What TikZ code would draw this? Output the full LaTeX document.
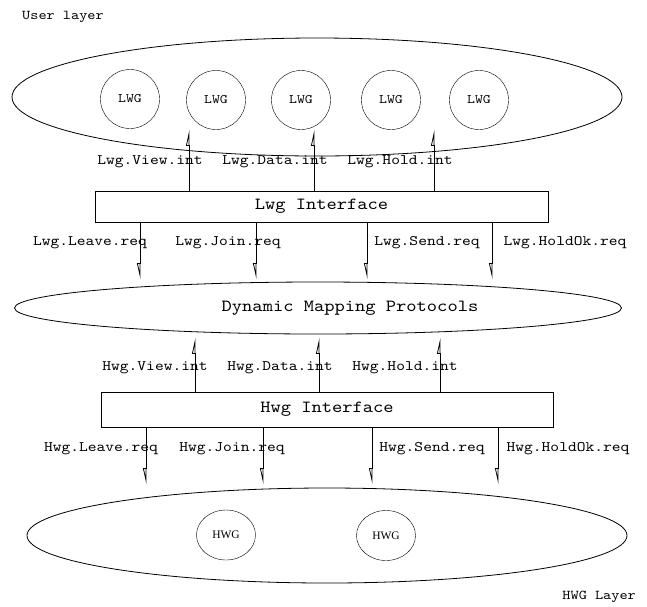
\documentclass[tikz,border=0pt]{standalone}
\usepackage{fontspec}
\setmainfont{Liberation Serif}
\newfontfamily\courfam[FakeStretch=1.15]{lmmono10-regular.otf}
\usetikzlibrary{arrows.meta,shapes.geometric}
\newcommand{\cour}[1]{\fontsize{#1}{#1}\courfam}
\begin{document}
\begin{tikzpicture}[x=1pt,y=-1pt,
  layer/.style={draw,ellipse,line width=0.8pt,inner sep=0pt},
  grp/.style={draw,circle,minimum size=59pt,inner sep=0pt,font=\cour{13}},
  hgrp/.style={draw,ellipse,minimum width=59pt,minimum height=50pt,inner sep=0pt,font=\fontsize{11.5}{11.5}\selectfont},
  iface/.style={draw,rectangle,inner sep=0pt,font=\cour{17}},
  lbl/.style={inner sep=0pt,font=\cour{14.5}},
  title/.style={inner sep=0pt,font=\cour{13.5}},
  uparr/.style={line width=0.8pt,-{Triangle[open,harpoon,length=14pt,width=6pt,line width=0.8pt]}},
  dnarr/.style={line width=0.8pt,-{Triangle[open,harpoon,swap,length=14pt,width=6pt,line width=0.8pt]}}]
\useasboundingbox (0,0) rectangle (647,606);
% top layer
\node[title,anchor=west] (user) at (22,17) {User layer};
\node[layer,minimum width=610pt,minimum height=118pt] (top) at (317,97) {};
\node[grp] (l1) at (130,99) {LWG};
\node[grp] (l2) at (216,100) {LWG};
\node[grp] (l3) at (301,100) {LWG};
\node[grp] (l4) at (391,100) {LWG};
\node[grp] (l5) at (479,100) {LWG};
% Lwg interface
\node[iface,minimum width=453pt,minimum height=31pt] (lwg) at (321.5,206.5) {Lwg Interface};
\coordinate (ua1) at (189,130);
\coordinate (ua2) at (314,130);
\coordinate (ua3) at (434,130);
\draw[uparr] (lwg.north -| ua1) -- (ua1);
\draw[uparr] (lwg.north -| ua2) -- (ua2);
\draw[uparr] (lwg.north -| ua3) -- (ua3);
\node[lbl] (t1) at (150,162) {Lwg.View.int};
\node[lbl] (t2) at (275,162) {Lwg.Data.int};
\node[lbl] (t3) at (400,162) {Lwg.Hold.int};
\coordinate (da1) at (140,279);
\coordinate (da2) at (256,279);
\coordinate (da3) at (367,279);
\coordinate (da4) at (492,279);
\draw[dnarr] (lwg.south -| da1) -- (da1);
\draw[dnarr] (lwg.south -| da2) -- (da2);
\draw[dnarr] (lwg.south -| da3) -- (da3);
\draw[dnarr] (lwg.south -| da4) -- (da4);
\node[lbl] (b1) at (90,243) {Lwg.Leave.req};
\node[lbl] (b2) at (228,243) {Lwg.Join.req};
\node[lbl] (b3) at (427,243) {Lwg.Send.req};
\node[lbl] (b4) at (565,243) {Lwg.HoldOk.req};
% middle layer
\node[layer,minimum width=607pt,minimum height=52pt] (mid) at (318,308) {};
\node[iface,draw=none] (dmp) at (350,308) {Dynamic Mapping Protocols};
% Hwg interface
\node[iface,minimum width=452pt,minimum height=35pt] (hwg) at (327,409.5) {Hwg Interface};
\coordinate (hu1) at (195,338);
\coordinate (hu2) at (319,338);
\coordinate (hu3) at (440,338);
\draw[uparr] (hwg.north -| hu1) -- (hu1);
\draw[uparr] (hwg.north -| hu2) -- (hu2);
\draw[uparr] (hwg.north -| hu3) -- (hu3);
\node[lbl] (s1) at (155,368) {Hwg.View.int};
\node[lbl] (s2) at (280,368) {Hwg.Data.int};
\node[lbl] (s3) at (405,368) {Hwg.Hold.int};
\coordinate (hd1) at (146,484);
\coordinate (hd2) at (263,484);
\coordinate (hd3) at (372,484);
\coordinate (hd4) at (498,484);
\draw[dnarr] (hwg.south -| hd1) -- (hd1);
\draw[dnarr] (hwg.south -| hd2) -- (hd2);
\draw[dnarr] (hwg.south -| hd3) -- (hd3);
\draw[dnarr] (hwg.south -| hd4) -- (hd4);
\node[lbl] (r1) at (101,449) {Hwg.Leave.req};
\node[lbl] (r2) at (232,449) {Hwg.Join.req};
\node[lbl] (r3) at (432,449) {Hwg.Send.req};
\node[lbl] (r4) at (568,449) {Hwg.HoldOk.req};
% bottom layer
\node[layer,minimum width=600pt,minimum height=95pt] (bot) at (327,535.5) {};
\node[hgrp] (h1) at (226,535) {HWG};
\node[hgrp] (h2) at (386,535.5) {HWG};
\node[title,anchor=east] (hwgl) at (636,597) {HWG Layer};
\end{tikzpicture}
\end{document}
